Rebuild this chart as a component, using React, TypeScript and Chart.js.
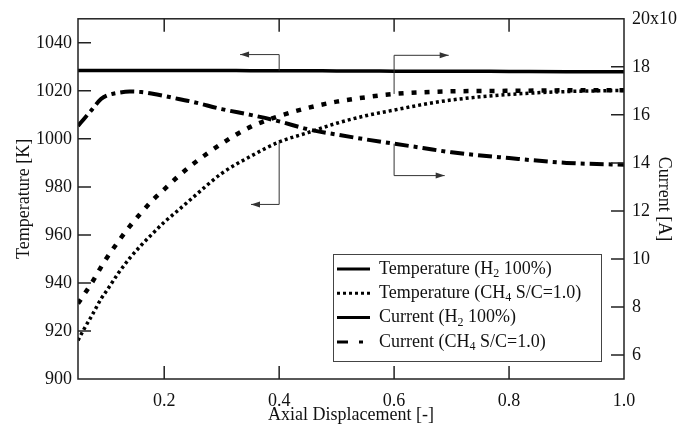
import React, { useEffect, useRef } from "react";
import { Chart, registerables } from "chart.js";

Chart.register(...registerables);

// ---- data ----
const xValues = [0.05, 0.06, 0.075, 0.09, 0.1, 0.12, 0.14, 0.16, 0.18, 0.2, 0.225, 0.25, 0.3, 0.35, 0.4, 0.45, 0.5, 0.55, 0.6, 0.65, 0.7, 0.8, 0.9, 1.0];
const tempH2 = [1028.5, 1028.5, 1028.5, 1028.5, 1028.5, 1028.5, 1028.5, 1028.5, 1028.5, 1028.5, 1028.5, 1028.5, 1028.5, 1028.4, 1028.4, 1028.4, 1028.3, 1028.3, 1028.2, 1028.2, 1028.2, 1028.1, 1028.0, 1028.0];
const tempCH4 = [916.1, 920.6, 926.8, 933.3, 936.8, 944.0, 950.3, 955.7, 960.6, 965.3, 970.4, 975.6, 985.6, 992.7, 998.7, 1002.6, 1006.5, 1009.6, 1012.0, 1014.3, 1016.2, 1018.5, 1019.7, 1020.2];
const currentH2 = [15.54, 15.82, 16.24, 16.66, 16.8, 16.92, 16.97, 16.95, 16.88, 16.79, 16.66, 16.54, 16.24, 16.0, 15.73, 15.4, 15.18, 14.98, 14.8, 14.62, 14.44, 14.2, 14.0, 13.92];
const currentCH4 = [8.14, 8.5, 9.04, 9.66, 10.04, 10.72, 11.36, 11.92, 12.45, 12.9, 13.45, 13.95, 14.8, 15.5, 15.95, 16.29, 16.55, 16.73, 16.87, 16.94, 16.98, 17.0, 17.02, 17.02];

const seriesLabels = [
  "Temperature (H₂ 100%)",
  "Temperature (CH₄ S/C=1.0)",
  "Current (H₂ 100%)",
  "Current (CH₄ S/C=1.0)",
];

const xTicks = [0.2, 0.4, 0.6, 0.8, 1.0];
const xTickLabels = ["0.2", "0.4", "0.6", "0.8", "1.0"];
const tempTicks = [900, 920, 940, 960, 980, 1000, 1020, 1040];
const currentTicks = [6, 8, 10, 12, 14, 16, 18, 20];
const currentTickLabels = ["6", "8", "10", "12", "14", "16", "18", "20x10"];

// annotation arrows (data coordinates): vertical from curve to corner, then horizontal to tip
const arrowAxis = ["yT", "yT", "yC", "yC"];
const arrowX = [0.4, 0.4, 0.6, 0.6];
const arrowStartY = [1028.4, 998.7, 16.87, 14.8];
const arrowCornerY = [1035.1, 972.7, 18.48, 13.47];
const arrowTipX = [0.332, 0.351, 0.695, 0.688];

const FONT = '"Liberation Serif", "Times New Roman", serif';
const INK = "#111";

const subMap: Record<string, string> = { "₀": "0", "₁": "1", "₂": "2", "₃": "3", "₄": "4", "₅": "5", "₆": "6", "₇": "7", "₈": "8", "₉": "9" };

function drawRich(ctx: CanvasRenderingContext2D, text: string, x: number, y: number, size: number) {
  let buf = "";
  let cx = x;
  const flush = () => {
    if (buf) {
      ctx.font = `${size}px ${FONT}`;
      ctx.fillText(buf, cx, y);
      cx += ctx.measureText(buf).width;
      buf = "";
    }
  };
  for (const ch of text) {
    if (subMap[ch]) {
      flush();
      const s = Math.round(size * 0.65);
      ctx.font = `${s}px ${FONT}`;
      ctx.fillText(subMap[ch], cx, y + size * 0.28);
      cx += ctx.measureText(subMap[ch]).width;
    } else {
      buf += ch;
    }
  }
  flush();
}

const framePlugin = {
  id: "frameTicks",
  afterDatasetsDraw(chart: any) {
    const { ctx, chartArea: ca, scales } = chart;
    ctx.save();
    ctx.strokeStyle = "#222";
    ctx.lineWidth = 1.5;
    ctx.strokeRect(ca.left, ca.top, ca.right - ca.left, ca.bottom - ca.top);
    const L = 13;
    ctx.beginPath();
    for (const t of scales.x.ticks) {
      const px = scales.x.getPixelForValue(t.value);
      if (px <= ca.left + 1 || px >= ca.right - 1) continue;
      ctx.moveTo(px, ca.bottom);
      ctx.lineTo(px, ca.bottom - L);
      ctx.moveTo(px, ca.top);
      ctx.lineTo(px, ca.top + L);
    }
    for (const t of scales.yT.ticks) {
      const py = scales.yT.getPixelForValue(t.value);
      if (py >= ca.bottom - 1 || py <= ca.top + 1) continue;
      ctx.moveTo(ca.left, py);
      ctx.lineTo(ca.left + L, py);
    }
    for (const t of scales.yC.ticks) {
      const py = scales.yC.getPixelForValue(t.value);
      if (py >= ca.bottom - 1 || py <= ca.top + 1) continue;
      ctx.moveTo(ca.right, py);
      ctx.lineTo(ca.right - L, py);
    }
    ctx.stroke();

    // arrows
    ctx.strokeStyle = "#333";
    ctx.fillStyle = "#333";
    ctx.lineWidth = 1;
    for (let i = 0; i < arrowX.length; i++) {
      const ys = scales[arrowAxis[i]];
      const x0 = scales.x.getPixelForValue(arrowX[i]);
      const y0 = ys.getPixelForValue(arrowStartY[i]);
      const y1 = ys.getPixelForValue(arrowCornerY[i]);
      const x1 = scales.x.getPixelForValue(arrowTipX[i]);
      ctx.beginPath();
      ctx.moveTo(x0, y0);
      ctx.lineTo(x0, y1);
      ctx.lineTo(x1, y1);
      ctx.stroke();
      const dir = x1 < x0 ? -1 : 1;
      ctx.beginPath();
      ctx.moveTo(x1, y1);
      ctx.lineTo(x1 - dir * 9, y1 - 3);
      ctx.lineTo(x1 - dir * 9, y1 + 3);
      ctx.closePath();
      ctx.fill();
    }
    ctx.restore();
  },
};

const legendPlugin = {
  id: "boxLegend",
  afterDraw(chart: any) {
    const { ctx, chartArea: ca } = chart;
    const w = 268;
    const h = 107;
    const left = ca.right - 23 - w;
    const top = ca.bottom - 18 - h;
    ctx.save();
    ctx.fillStyle = "#fff";
    ctx.fillRect(left, top, w, h);
    ctx.strokeStyle = "#444";
    ctx.lineWidth = 1;
    ctx.strokeRect(left + 0.5, top + 0.5, w, h);
    const rowH = 24.3;
    chart.data.datasets.forEach((ds: any, i: number) => {
      const cy = top + 15 + i * rowH;
      ctx.strokeStyle = ds.borderColor;
      ctx.lineWidth = 3;
      ctx.setLineDash(ds.legendDash || ds.borderDash || []);
      ctx.beginPath();
      ctx.moveTo(left + 4, cy);
      ctx.lineTo(left + (ds.legendLen || 37), cy);
      ctx.stroke();
      ctx.setLineDash([]);
      ctx.fillStyle = INK;
      ctx.textBaseline = "middle";
      ctx.textAlign = "left";
      drawRich(ctx, ds.label, left + 46, cy, 18);
    });
    ctx.restore();
  },
};

export default function App() {
  const ref = useRef<HTMLCanvasElement>(null);
  useEffect(() => {
    if (!ref.current) return;
    Chart.defaults.font.family = FONT;
    const pts = (ys: number[]) => xValues.map((x, i) => ({ x, y: ys[i] }));
    const chart = new Chart(ref.current, {
      type: "line",
      data: {
        datasets: [
          { label: seriesLabels[0], data: pts(tempH2), yAxisID: "yT", borderColor: "#000", borderWidth: 3.5, pointRadius: 0, tension: 0.3, cubicInterpolationMode: "monotone" } as any,
          { label: seriesLabels[1], data: pts(tempCH4), yAxisID: "yT", borderColor: "#000", borderWidth: 3.5, borderDash: [3, 3], pointRadius: 0, cubicInterpolationMode: "monotone" } as any,
          { label: seriesLabels[2], data: pts(currentH2), yAxisID: "yC", borderColor: "#000", borderWidth: 4, borderDash: [14, 5, 4, 5], legendDash: [], pointRadius: 0, cubicInterpolationMode: "monotone" } as any,
          { label: seriesLabels[3], data: pts(currentCH4), yAxisID: "yC", borderColor: "#000", borderWidth: 4.5, borderDash: [5, 8], legendDash: [11, 11], legendLen: 30, pointRadius: 0, cubicInterpolationMode: "monotone" } as any,
        ],
      },
      options: {
        animation: false,
        responsive: true,
        maintainAspectRatio: false,
        layout: { padding: { top: 16, left: 0, right: 0, bottom: 0 } },
        plugins: { legend: { display: false }, tooltip: { enabled: false } },
        scales: {
          x: {
            type: "linear",
            min: 0.05,
            max: 1.0,
            afterBuildTicks: (s: any) => { s.ticks = xTicks.map((v) => ({ value: v })); },
            afterFit: (s: any) => { s.height = 47; },
            grid: { display: false, drawTicks: false },
            border: { display: false },
            ticks: { autoSkip: false, maxRotation: 0, padding: 11, color: INK, font: { size: 18 }, callback: (_v: any, i: number) => xTickLabels[i] },
            title: { display: true, text: "Axial Displacement [-]", color: INK, font: { size: 18 }, padding: 0 },
          },
          yT: {
            type: "linear",
            position: "left",
            min: 900,
            max: 1050,
            afterBuildTicks: (s: any) => { s.ticks = tempTicks.map((v) => ({ value: v })); },
            afterFit: (s: any) => { s.width = 78; },
            grid: { display: false, drawTicks: false },
            border: { display: false },
            ticks: { autoSkip: false, padding: 6, color: INK, font: { size: 18 }, callback: (v: any) => String(v) },
            title: { display: true, text: "Temperature [K]", color: INK, font: { size: 18 }, padding: { top: 13, bottom: 0 } },
          },
          yC: {
            type: "linear",
            position: "right",
            min: 5,
            max: 20,
            afterBuildTicks: (s: any) => { s.ticks = currentTicks.map((v) => ({ value: v })); },
            afterFit: (s: any) => { s.width = 70; },
            grid: { display: false, drawTicks: false },
            border: { display: false },
            ticks: { autoSkip: false, padding: 8, color: INK, font: { size: 18 }, callback: (_v: any, i: number) => currentTickLabels[i] },
            title: { display: true, text: "Current [A]", color: INK, font: { size: 18 }, padding: { top: 19, bottom: 0 } },
          },
        },
      } as any,
      plugins: [framePlugin, legendPlugin],
    });
    return () => chart.destroy();
  }, []);
  return (
    <div style={{ position: "absolute", left: 0, top: 0, width: 694, height: 426, background: "#fff" }}>
      <canvas ref={ref} />
    </div>
  );
}
